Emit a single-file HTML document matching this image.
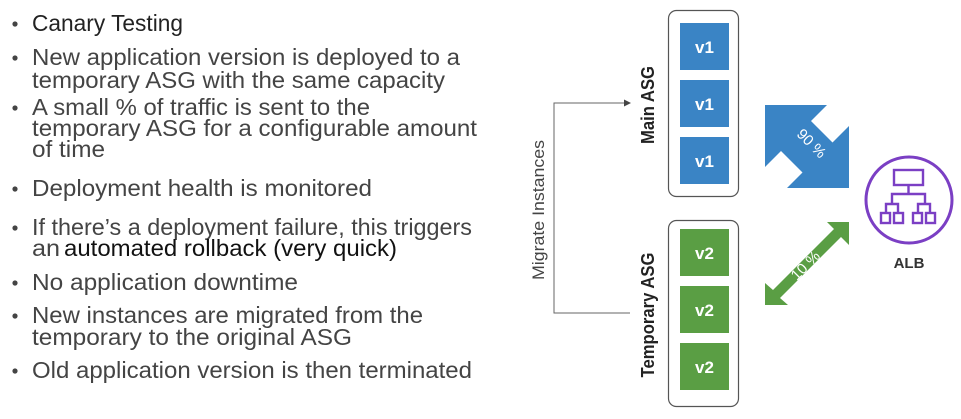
<!DOCTYPE html>
<html><head><meta charset="utf-8"><style>
html,body{margin:0;padding:0;background:#fff;width:961px;height:419px;overflow:hidden}
svg{display:block}
.t{font-family:"Liberation Sans",sans-serif;font-size:23.5px;fill:#444}
</style></head><body>
<svg width="961" height="419" viewBox="0 0 961 419" xmlns="http://www.w3.org/2000/svg">
<g fill="#444">
<circle cx="15" cy="24" r="2.6"/><circle cx="15" cy="58" r="2.6"/><circle cx="15" cy="108" r="2.6"/>
<circle cx="15" cy="189" r="2.6"/><circle cx="15" cy="228" r="2.6"/><circle cx="15" cy="283" r="2.6"/>
<circle cx="15" cy="316" r="2.6"/><circle cx="15" cy="371" r="2.6"/>
</g>
<g class="t">
<text x="32" y="31" textLength="151" lengthAdjust="spacingAndGlyphs" style="fill:#222">Canary Testing</text>
<text x="32" y="65" textLength="428" lengthAdjust="spacingAndGlyphs">New application version is deployed to a</text>
<text x="32" y="88" textLength="413" lengthAdjust="spacingAndGlyphs">temporary ASG with the same capacity</text>
<text x="32" y="115" textLength="338" lengthAdjust="spacingAndGlyphs">A small % of traffic is sent to the</text>
<text x="32" y="136" textLength="445" lengthAdjust="spacingAndGlyphs">temporary ASG for a configurable amount</text>
<text x="32" y="157" textLength="73" lengthAdjust="spacingAndGlyphs">of time</text>
<text x="32" y="196" textLength="340" lengthAdjust="spacingAndGlyphs">Deployment health is monitored</text>
<text x="32" y="235" textLength="440" lengthAdjust="spacingAndGlyphs">If there’s a deployment failure, this triggers</text>
<text x="32" y="256" textLength="28" lengthAdjust="spacingAndGlyphs">an</text>
<text x="64" y="256" textLength="333" lengthAdjust="spacingAndGlyphs" style="fill:#111">automated rollback (very quick)</text>
<text x="32" y="290" textLength="266" lengthAdjust="spacingAndGlyphs">No application downtime</text>
<text x="32" y="323" textLength="391" lengthAdjust="spacingAndGlyphs">New instances are migrated from the</text>
<text x="32" y="345" textLength="320" lengthAdjust="spacingAndGlyphs">temporary to the original ASG</text>
<text x="32" y="378" textLength="440" lengthAdjust="spacingAndGlyphs">Old application version is then terminated</text>
</g>
<polyline points="630,313 554,313 554,103 626,103" fill="none" stroke="#666" stroke-width="1"/>
<polygon points="631,103 624,99.5 624,106.5" fill="#444"/>
<text transform="translate(544,210) rotate(-90)" text-anchor="middle" textLength="140" lengthAdjust="spacingAndGlyphs" style="font-family:'Liberation Sans',sans-serif;font-size:17px;fill:#444">Migrate Instances</text>
<text transform="translate(654,105) rotate(-90)" text-anchor="middle" textLength="78" lengthAdjust="spacingAndGlyphs" style="font-family:'Liberation Sans',sans-serif;font-size:18px;font-weight:bold;fill:#222">Main ASG</text>
<text transform="translate(654,315) rotate(-90)" text-anchor="middle" textLength="125" lengthAdjust="spacingAndGlyphs" style="font-family:'Liberation Sans',sans-serif;font-size:18px;font-weight:bold;fill:#222">Temporary ASG</text>
<rect x="668.5" y="10.5" width="70" height="186" rx="8" fill="none" stroke="#555" stroke-width="1.2"/>
<rect x="668.5" y="220.5" width="70" height="186" rx="8" fill="none" stroke="#555" stroke-width="1.2"/>
<g fill="#3a84c5"><rect x="680" y="23" width="49" height="47"/><rect x="680" y="80" width="49" height="47"/><rect x="680" y="137" width="49" height="47"/></g>
<g fill="#5a9e44"><rect x="680" y="229" width="49" height="47"/><rect x="680" y="286" width="49" height="47"/><rect x="680" y="343" width="49" height="47"/></g>
<g style="font-family:'Liberation Sans',sans-serif;font-size:17px;font-weight:bold;fill:#fff" text-anchor="middle">
<text x="704.5" y="53">v1</text><text x="704.5" y="110">v1</text><text x="704.5" y="167">v1</text>
<text x="704.5" y="259">v2</text><text x="704.5" y="316">v2</text><text x="704.5" y="373">v2</text>
</g>
<polygon points="765,105 827,105 811,121 832.5,142.5 849,126 849,188 787,188 802.5,172.5 781,151 765,167" fill="#3a84c5"/>
<text transform="translate(808,147) rotate(45)" text-anchor="middle" style="font-family:'Liberation Sans',sans-serif;font-size:15px;fill:#fff">90 %</text>
<polygon points="765,305 765,283 773,290 834,229 827,222 849,222 849,245 841,237 780,298 788,305" fill="#5a9e44"/>
<text transform="translate(809,269) rotate(-45)" text-anchor="middle" style="font-family:'Liberation Sans',sans-serif;font-size:15px;fill:#fff">10 %</text>
<circle cx="909" cy="200" r="43" fill="none" stroke="#7b3fc4" stroke-width="3"/>
<g fill="none" stroke="#7b3fc4" stroke-width="2.4">
<rect x="894" y="170" width="29" height="15"/>
<polyline points="908.5,185 908.5,194"/>
<polyline points="892,204 892,194 925,194 925,204"/>
<polyline points="886,213 886,204 898,204 898,213"/>
<polyline points="918,213 918,204 930,204 930,213"/>
<rect x="881" y="213" width="9" height="10"/><rect x="894" y="213" width="9" height="10"/>
<rect x="913" y="213" width="9" height="10"/><rect x="926" y="213" width="9" height="10"/>
</g>
<text x="909" y="268" text-anchor="middle" style="font-family:'Liberation Sans',sans-serif;font-size:15px;font-weight:bold;fill:#333">ALB</text>
</svg>
</body></html>
